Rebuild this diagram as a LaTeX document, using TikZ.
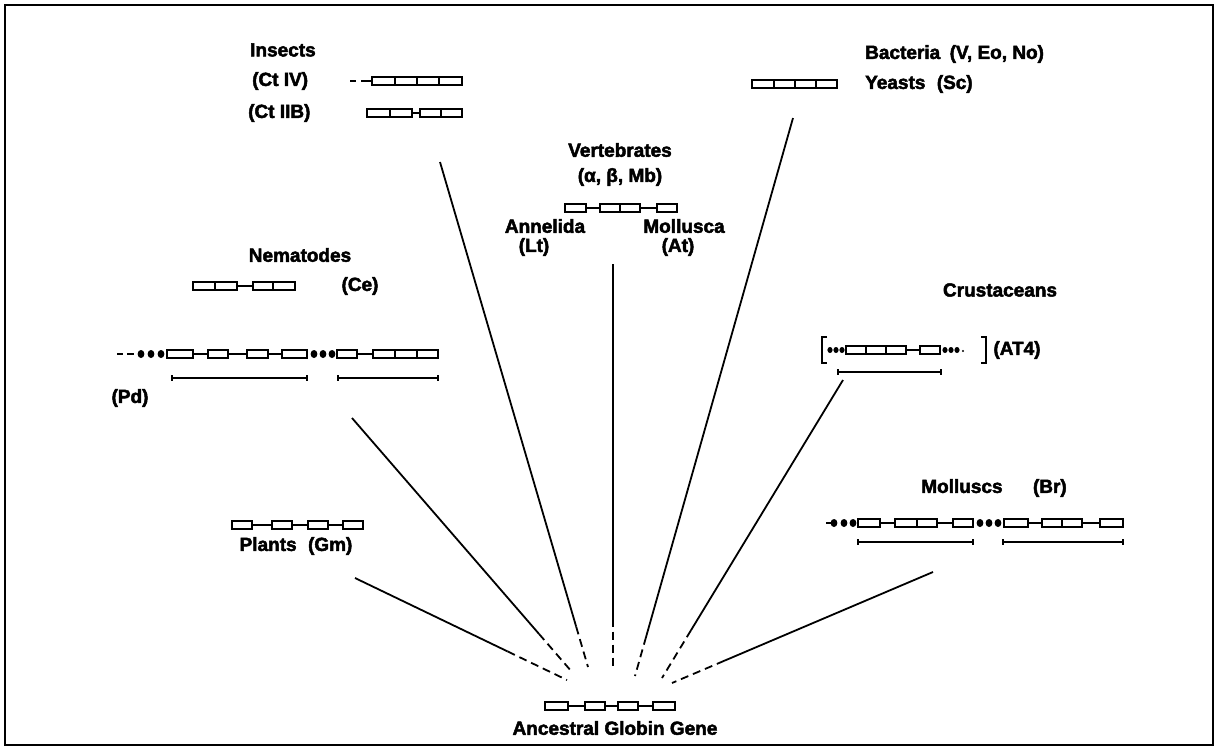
\documentclass[tikz,border=0pt]{standalone}
\usepackage{fontspec}
\setmainfont{Liberation Sans}[BoldFeatures={FakeBold=2.5}]
\usetikzlibrary{calc}
\newcommand\gnbox[3]{\draw[gbox] (#1,#3-4) rectangle (#2,#3+4);}
\newcommand\gnlink[3]{\draw[glink] (#1,#3) -- (#2,#3);}
\newcommand\gndot[2]{\fill (#1,#2) ellipse (3.4pt and 4pt);}
\newcommand\gnsdot[2]{\fill (#1,#2) ellipse (2.6pt and 3pt);}
\newcommand\gnbar[3]{\draw[gbar] (#1,#3) -- (#2,#3); \draw[gbar] (#1,#3-3) -- (#1,#3+3); \draw[gbar] (#2,#3-3) -- (#2,#3+3);}
\newcommand\rayto[3]{\draw[rayline] (#1) -- ($(#1)!#3!(#2)$); \draw[rayline,dash pattern=on 8pt off 5pt] ($(#1)!#3!(#2)$) -- (#2);}
\begin{document}
\begin{tikzpicture}[x=1pt,y=-1pt,
  lab/.style={font=\fontsize{19}{22}\selectfont\bfseries, inner sep=0pt},
  gbox/.style={draw=black, fill=white, line width=2pt},
  glink/.style={line width=2pt},
  gbar/.style={line width=1.4pt},
  rayline/.style={line width=1.8pt},
  frame/.style={line width=1.6pt}]
\useasboundingbox (0,0) rectangle (1219,750);
\draw[frame] (5,5) rectangle (1213,745);
\draw[line width=2.4pt] (5,5) -- (1213,5);

% ---- labels ----
\node[lab, anchor=west] (insects) at (250,50) {Insects};
\node[lab, anchor=west] (ctiv) at (252,81) {(Ct IV)};
\node[lab, anchor=west] (ctiib) at (248,113) {(Ct IIB)};
\node[lab, anchor=west] (bact) at (865,54) {Bacteria\hspace{0.5em}(V, Eo, No)};
\node[lab, anchor=west] (yeast) at (865,84) {Yeasts\hspace{0.6em}(Sc)};
\node[lab] (vert) at (620,150) {Vertebrates};
\node[lab] (vertsp) at (620,177) {(α, β, Mb)};
\node[lab] (annel) at (545,226) {Annelida};
\node[lab] (lt) at (534,247) {(Lt)};
\node[lab] (mollu) at (684,226) {Mollusca};
\node[lab] (at) at (678,247) {(At)};
\node[lab] (nema) at (300,255) {Nematodes};
\node[lab] (ce) at (360,286) {(Ce)};
\node[lab] (pd) at (130,398) {(Pd)};
\node[lab] (crust) at (1000,290) {Crustaceans};
\node[lab] (at4) at (1017,350) {(AT4)};
\node[lab] (plants) at (296,546) {Plants\hspace{0.6em}(Gm)};
\node[lab] (mollbr) at (994,488) {Molluscs\hspace{1.6em}(Br)};
\node[lab] (anc) at (615,728) {Ancestral Globin Gene};

% ---- genes ----
% Ct IV
\draw[glink] (350,81) -- (356,81); \draw[glink] (361,81) -- (372,81);
\gnbox{372}{395}{81}\gnbox{395}{417}{81}\gnbox{417}{439}{81}\gnbox{439}{462}{81}
% Ct IIB
\gnbox{367}{390}{113}\gnbox{390}{412}{113}\gnlink{412}{420}{113}\gnbox{420}{441}{113}\gnbox{441}{462}{113}
% Yeasts
\gnbox{752}{774}{84}\gnbox{774}{795}{84}\gnbox{795}{816}{84}\gnbox{816}{837}{84}
% Vertebrates
\gnlink{586}{600}{208}\gnlink{640}{657}{208}
\gnbox{565}{586}{208}\gnbox{600}{620}{208}\gnbox{620}{640}{208}\gnbox{657}{677}{208}
% Ce
\gnlink{237}{253}{286}
\gnbox{193}{215}{286}\gnbox{215}{237}{286}\gnbox{253}{273}{286}\gnbox{273}{295}{286}
% Pd
\draw[glink] (117,354) -- (123,354); \draw[glink] (127,354) -- (134,354);
\gndot{141}{354}\gndot{151}{354}\gndot{161}{354}
\gnlink{193}{208}{354}\gnlink{228}{247}{354}\gnlink{268}{282}{354}\gnlink{357}{373}{354}
\gnbox{167}{193}{354}\gnbox{208}{228}{354}\gnbox{247}{268}{354}\gnbox{282}{307}{354}
\gndot{314}{354}\gndot{323}{354}\gndot{332}{354}
\gnbox{337}{357}{354}\gnbox{373}{395}{354}\gnbox{395}{417}{354}\gnbox{417}{438}{354}
\gnbar{172}{307}{378}\gnbar{338}{438}{378}
% Crustaceans
\draw[line width=1.5pt] (827,337) -- (822,337) -- (822,363) -- (827,363);
\draw[line width=1.5pt] (981,337) -- (986,337) -- (986,363) -- (981,363);
\gnsdot{830}{350}\gnsdot{836}{350}\gnsdot{842}{350}
\gnlink{906}{920}{350}
\gnbox{846}{866}{350}\gnbox{866}{886}{350}\gnbox{886}{906}{350}
\gnbox{920}{940}{350}
\gnsdot{945}{350}\gnsdot{951}{350}\gnsdot{957}{350}
\fill (963,351) circle (1.2pt);
\gnbar{838}{941}{372}
% Molluscs Br
\draw[glink] (826,523) -- (831,523);
\gndot{834}{523}\gndot{844}{523}\gndot{853}{523}
\gnlink{880}{895}{523}\gnlink{937}{953}{523}\gnlink{1028}{1042}{523}\gnlink{1082}{1100}{523}
\gnbox{858}{880}{523}\gnbox{895}{917}{523}\gnbox{917}{937}{523}\gnbox{953}{973}{523}
\gndot{980}{523}\gndot{989}{523}\gndot{998}{523}
\gnbox{1004}{1028}{523}\gnbox{1042}{1062}{523}\gnbox{1062}{1082}{523}\gnbox{1100}{1123}{523}
\gnbar{858}{973}{542}\gnbar{1003}{1123}{542}
% Plants
\gnlink{252}{272}{525}\gnlink{292}{308}{525}\gnlink{328}{343}{525}
\gnbox{232}{252}{525}\gnbox{272}{292}{525}\gnbox{308}{328}{525}\gnbox{343}{363}{525}
% Ancestral
\gnlink{568}{585}{706}\gnlink{605}{618}{706}\gnlink{638}{653}{706}
\gnbox{545}{568}{706}\gnbox{585}{605}{706}\gnbox{618}{638}{706}\gnbox{653}{675}{706}

% ---- rays ----
\coordinate (plS) at (355,578);  \coordinate (plE) at (567,680);
\coordinate (neS) at (352,418);  \coordinate (neE) at (572,672);
\coordinate (inS) at (440,162);  \coordinate (inE) at (588,667);
\coordinate (veS) at (613,264);  \coordinate (veE) at (613,667);
\coordinate (baS) at (793,118);  \coordinate (baE) at (635,676);
\coordinate (crS) at (843,380);  \coordinate (crE) at (662,678);
\coordinate (moS) at (933,572);  \coordinate (moE) at (672,683);
\rayto{plS}{plE}{0.72}
\rayto{neS}{neE}{0.85}
\rayto{inS}{inE}{0.92}
\rayto{veS}{veE}{0.88}
\rayto{baS}{baE}{0.93}
\rayto{crS}{crE}{0.84}
\rayto{moS}{moE}{0.8}
\end{tikzpicture}
\end{document}
